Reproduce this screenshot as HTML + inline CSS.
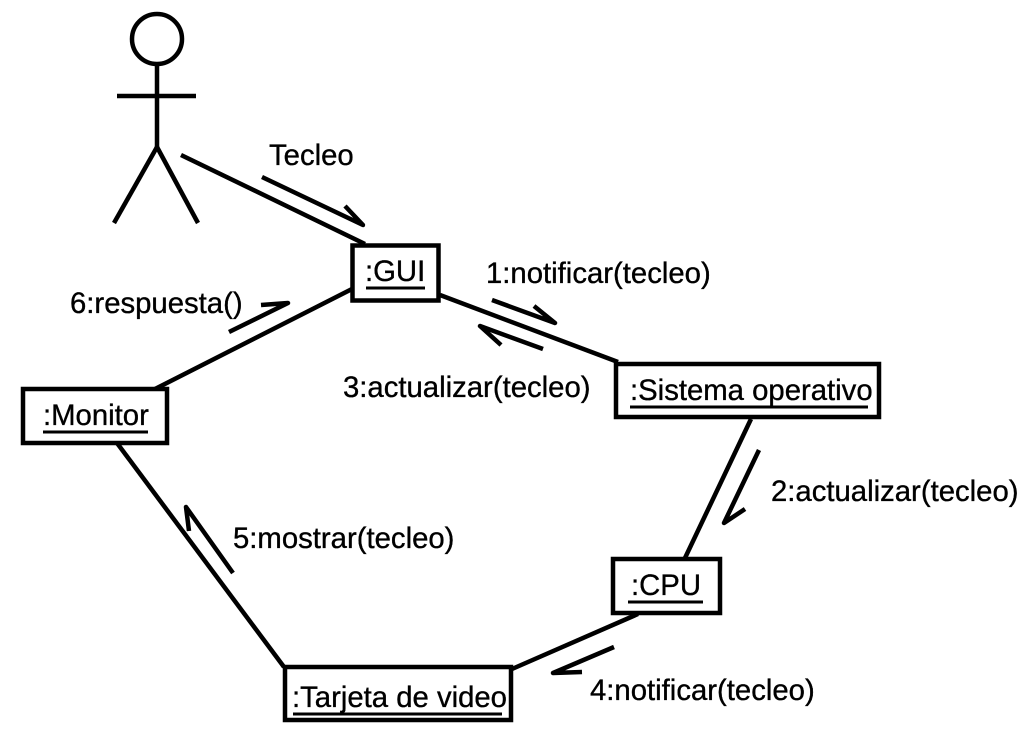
<!DOCTYPE html>
<html><head><meta charset="utf-8"><style>
html,body{margin:0;padding:0;background:#fff}
svg{display:block}
text{font-family:"Liberation Sans",Arial,sans-serif;font-size:29.3px;fill:#000;stroke:#000;stroke-width:.35px}
</style></head><body>
<svg width="1036" height="735" viewBox="0 0 1036 735" xmlns="http://www.w3.org/2000/svg">
<g fill="none" stroke="#000" stroke-width="4.5">
<circle cx="157" cy="39" r="25"/>
<line x1="157" y1="64" x2="157" y2="147"/>
<line x1="117" y1="96" x2="196" y2="96"/>
<line x1="157" y1="147" x2="114" y2="223"/>
<line x1="157" y1="147" x2="198" y2="223"/>
<line x1="181" y1="155" x2="365" y2="244"/>
<line x1="440" y1="295" x2="618" y2="362"/>
<line x1="352" y1="289" x2="155" y2="389"/>
<line x1="751" y1="419" x2="685" y2="558"/>
<line x1="638" y1="614" x2="512" y2="669"/>
<line x1="117" y1="443" x2="284" y2="667"/>
<!-- half arrows -->
<path d="M262 177 L363 225 L345 206" stroke-linejoin="round"/>
<path d="M492 300 L555 323 L534 306" stroke-linejoin="round"/>
<path d="M543 349 L480 326 L501 345" stroke-linejoin="round"/>
<path d="M229 332 L288 303 L261 305" stroke-linejoin="round"/>
<path d="M759 450 L724 523 L745 509" stroke-linejoin="round"/>
<path d="M614 647 L553 673 L582 672" stroke-linejoin="round"/>
<path d="M233 573 L186 507 L189 531" stroke-linejoin="round"/>
</g>
<g fill="#fff" stroke="#000" stroke-width="4.5">
<rect x="352.5" y="245.5" width="86" height="55"/>
<rect x="616" y="364" width="263" height="53"/>
<rect x="23" y="389" width="144" height="54"/>
<rect x="613" y="559" width="107" height="54"/>
<rect x="285" y="667" width="226" height="53"/>
</g>
<text x="269" y="165">Tecleo</text>
<text x="486" y="283">1:notificar(tecleo)</text>
<text x="70" y="313">6:respuesta()</text>
<text x="343" y="397">3:actualizar(tecleo)</text>
<text x="771" y="501">2:actualizar(tecleo)</text>
<text x="233" y="548">5:mostrar(tecleo)</text>
<text x="590" y="700">4:notificar(tecleo)</text>
<text x="365" y="281">:GUI</text>
<text x="630" y="400">:Sistema operativo</text>
<text x="43" y="425">:Monitor</text>
<text x="631" y="595">:CPU</text>
<text x="292" y="707">:Tarjeta de video</text>
<g stroke="#000" stroke-width="3">
<line x1="366" y1="288" x2="425" y2="288"/>
<line x1="630" y1="407" x2="868" y2="407"/>
<line x1="43" y1="432" x2="148" y2="432"/>
<line x1="628" y1="602" x2="703" y2="602"/>
<line x1="293" y1="714" x2="502" y2="714"/>
</g>
</svg>
</body></html>
